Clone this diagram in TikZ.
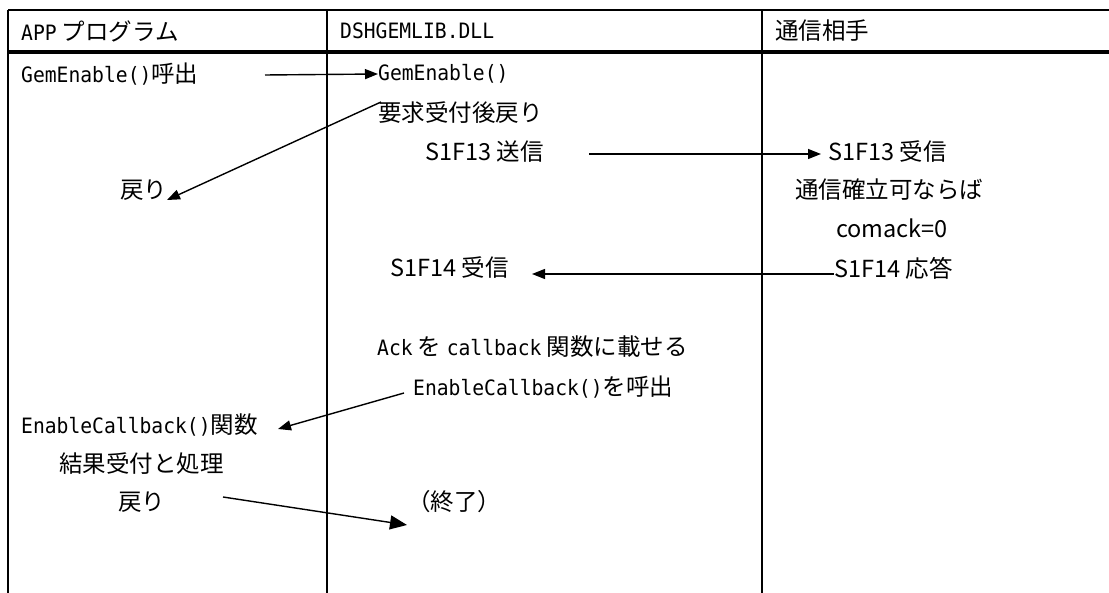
\documentclass[tikz,border=0pt]{standalone}
\usepackage{fontspec}
\setmainfont{Noto Sans CJK JP}
\newfontfamily\gm[Scale=0.9,FakeStretch=0.93]{DejaVu Sans Mono}
\usetikzlibrary{arrows.meta}
\begin{document}
\begin{tikzpicture}[x=1pt,y=-1pt,
  txt/.style={anchor=west,inner sep=0pt,font=\fontsize{23.5}{28}\selectfont},
  frame/.style={line width=2pt},
  hdrline/.style={line width=3.6pt},
  arr/.style={line width=1.4pt,-{Triangle[length=13pt,width=10pt]}},
  bigarr/.style={line width=1.4pt,-{Triangle[length=17pt,width=14pt]}}]
\useasboundingbox (0,0) rectangle (1109,593);
% frame
\draw[frame] (8,10) -- (1109,10);
\draw[frame] (8,10) -- (8,593);
\draw[frame] (327,10) -- (327,593);
\draw[frame] (762,10) -- (762,593);
\draw[hdrline] (8,52) -- (1109,52);
% headers
\node[txt] (h1) at (21,31) {{\gm APP} プログラム};
\node[txt] (h2) at (340,31) {\gm DSHGEMLIB.DLL};
\node[txt] (h3) at (775,31) {通信相手};
% texts
\node[txt] (t1) at (21,74) {{\gm GemEnable()}呼出};
\node[txt] (t2) at (378,74) {\gm GemEnable()};
\node[txt] (t3) at (378,113) {要求受付後戻り};
\node[txt] (t4) at (425,152) {S1F13 送信};
\node[txt] (t5) at (828,152) {S1F13 受信};
\node[txt] (t6) at (120,190) {戻り};
\node[txt] (t7) at (795,190) {通信確立可ならば};
\node[txt] (t8) at (836,228) {comack=0};
\node[txt] (t9) at (834,268) {S1F14 応答};
\node[txt] (t10) at (390,268) {S1F14 受信};
\node[txt] (t11) at (377,347) {{\gm Ack} を {\gm callback} 関数に載せる};
\node[txt] (t12) at (413,387) {{\gm EnableCallback()}を呼出};
\node[txt] (t13) at (21,425) {{\gm EnableCallback()}関数};
\node[txt] (t14) at (59,464) {結果受付と処理};
\node[txt] (t15) at (118,502) {戻り};
\node[txt] (t16) at (407,502) {（終了）};
% connector ends
\coordinate (a1s) at (265,75);
\coordinate (a2s) at (381,102);
\coordinate (a2e) at (167,200);
\coordinate (a3s) at (589,154);
\coordinate (a3e) at (821,154);
\coordinate (a4s) at (834,274);
\coordinate (a4e) at (532,274);
\coordinate (a5s) at (404,393);
\coordinate (a5e) at (278,429);
\coordinate (a6s) at (223,497);
\coordinate (a6e) at (407,525);
% connectors
\draw[arr] (a1s) -- (t2.west);
\draw[arr] (a2s) -- (a2e);
\draw[arr] (a3s) -- (a3e);
\draw[arr] (a4s) -- (a4e);
\draw[arr] (a5s) -- (a5e);
\draw[bigarr] (a6s) -- (a6e);
\end{tikzpicture}
\end{document}
